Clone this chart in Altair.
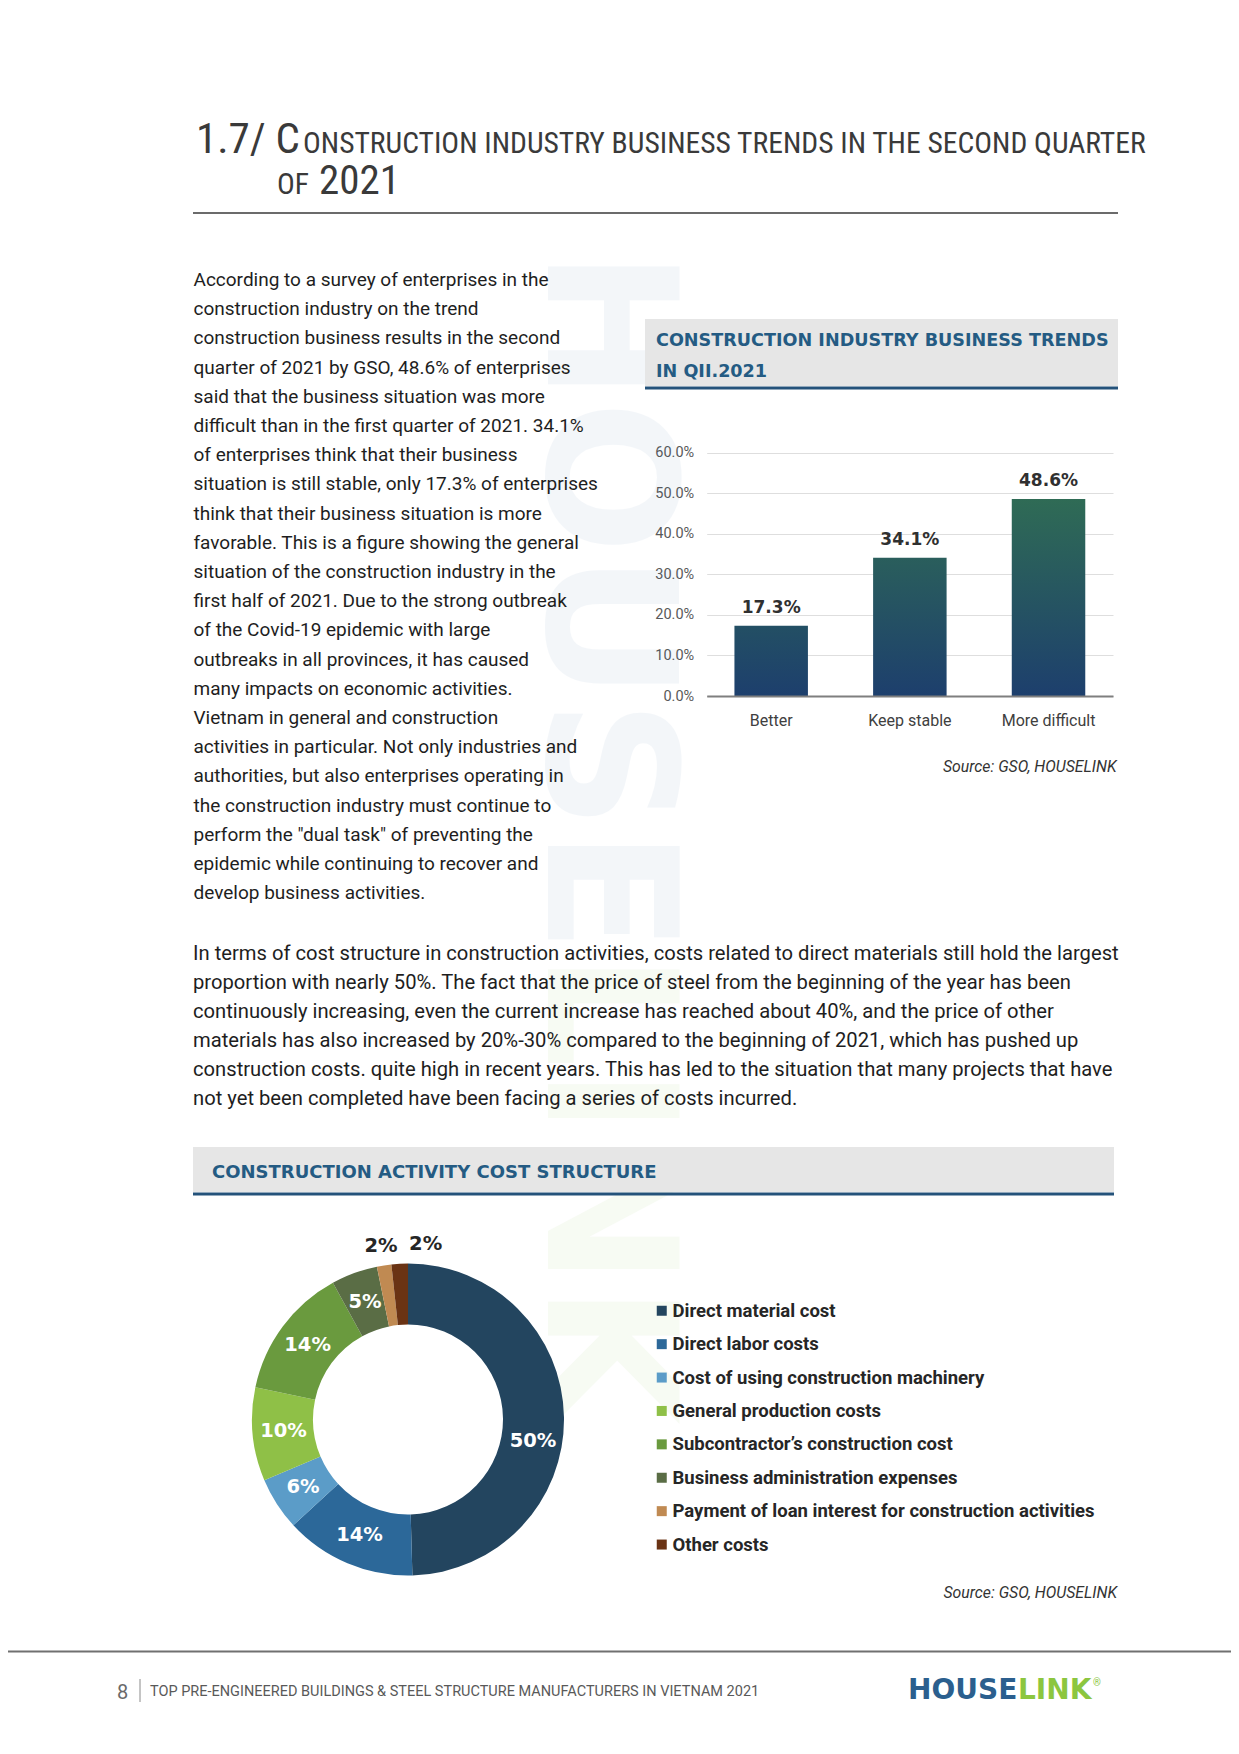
import math
import altair as alt
import pandas as pd

W, H = 1223, 1730

# ---------------- data ----------------
trend_categories = ["Better", "Keep stable", "More difficult"]
trend_values = [0.173, 0.341, 0.486]
trend_ticks = [0.0, 0.1, 0.2, 0.3, 0.4, 0.5, 0.6]

cost_categories = [
    "Direct material cost",
    "Direct labor costs",
    "Cost of using construction machinery",
    "General production costs",
    "Subcontractor\u2019s construction cost",
    "Business administration expenses",
    "Payment of loan interest for construction activities",
    "Other costs",
]
cost_values = [49.6, 13.6, 5.5, 9.7, 13.7, 4.8, 1.5, 1.7]
cost_labels = ["50%", "14%", "6%", "10%", "14%", "5%", "2%", "2%"]
cost_colors = ["#23455f", "#2c6899", "#5b9cc8", "#8fc047", "#6a9a3e", "#5a6d45", "#c08a52", "#6a3314"]

title_lead = "1.7/ C"
title_rest = "ONSTRUCTION INDUSTRY BUSINESS TRENDS IN THE SECOND QUARTER"
title_of = "OF"
title_year = "2021"

left_paragraph = [
    "According to a survey of enterprises in the",
    "construction industry on the trend",
    "construction business results in the second",
    "quarter of 2021 by GSO, 48.6% of enterprises",
    "said that the business situation was more",
    "difficult than in the first quarter of 2021. 34.1%",
    "of enterprises think that their business",
    "situation is still stable, only 17.3% of enterprises",
    "think that their business situation is more",
    "favorable. This is a figure showing the general",
    "situation of the construction industry in the",
    "first half of 2021. Due to the strong outbreak",
    "of the Covid-19 epidemic with large",
    "outbreaks in all provinces, it has caused",
    "many impacts on economic activities.",
    "Vietnam in general and construction",
    "activities in particular. Not only industries and",
    "authorities, but also enterprises operating in",
    "the construction industry must continue to",
    "perform the \"dual task\" of preventing the",
    "epidemic while continuing to recover and",
    "develop business activities.",
]
bottom_paragraph = [
    "In terms of cost structure in construction activities, costs related to direct materials still hold the largest",
    "proportion with nearly 50%. The fact that the price of steel from the beginning of the year has been",
    "continuously increasing, even the current increase has reached about 40%, and the price of other",
    "materials has also increased by 20%-30% compared to the beginning of 2021, which has pushed up",
    "construction costs. quite high in recent years. This has led to the situation that many projects that have",
    "not yet been completed have been facing a series of costs incurred.",
]
bar_header = ["CONSTRUCTION INDUSTRY BUSINESS TRENDS", "IN QII.2021"]
donut_header = "CONSTRUCTION ACTIVITY COST STRUCTURE"
source_text = "Source: GSO, HOUSELINK"
footer_page = "8"
footer_text = "TOP PRE-ENGINEERED BUILDINGS & STEEL STRUCTURE MANUFACTURERS IN VIETNAM 2021"
logo_a, logo_b, logo_mark = "HOUSE", "LINK", "\u00ae"
watermark_a, watermark_b = "HOUSE", "LINK"

# ---------------- styles ----------------
NARROW = "Liberation Sans Narrow, Roboto Condensed, Roboto"
BODY = "Roboto"
BOLD = "DejaVu Sans"
HEAD_BLUE = "#245b83"
LINE_BLUE = "#24527a"
BAR_BOTTOM = "#1d3f6d"
BAR_TOP = "#2f6b55"

one = alt.Data(values=[{}])


def txt(text, x, y, size, color="#222222", font=BODY, weight="normal", align="left",
        baseline="alphabetic", style="normal", lh=None, angle=None, opacity=None):
    kw = dict(font=font, fontSize=size, fontWeight=weight, align=align, baseline=baseline,
              color=color, fontStyle=style)
    if lh:
        kw["lineHeight"] = lh
    if angle:
        kw["angle"] = angle
    if opacity is not None:
        kw["opacity"] = opacity
    return alt.Chart(one).mark_text(**kw).encode(
        x=alt.value(x), y=alt.value(y), text=alt.value(text))


def rect(x1, x2, y1, y2, color):
    return alt.Chart(one).mark_rect(color=color).encode(
        x=alt.value(x1), x2=alt.value(x2), y=alt.value(y1), y2=alt.value(y2))


def hrule(x1, x2, y, color, width):
    return alt.Chart(one).mark_rule(color=color, strokeWidth=width).encode(
        x=alt.value(x1), x2=alt.value(x2), y=alt.value(y))


def vrule(x, y1, y2, color, width):
    return alt.Chart(one).mark_rule(color=color, strokeWidth=width).encode(
        x=alt.value(x), y=alt.value(y1), y2=alt.value(y2))


def lerp_hex(c0, c1, t):
    a = [int(c0[i:i + 2], 16) for i in (1, 3, 5)]
    b = [int(c1[i:i + 2], 16) for i in (1, 3, 5)]
    return "#" + "".join(f"{round(a[k] + (b[k] - a[k]) * t):02x}" for k in range(3))


layers = []

# faint, translucent watermark (axis labels stay readable through it)
layers.append(txt(watermark_a, 540, 242, 180, color="#2a64a0", font=BOLD, weight="bold",
                  angle=90, opacity=0.05))
layers.append(txt(watermark_b, 540, 945, 180, color="#7fbf3f", font=BOLD, weight="bold",
                  angle=90, opacity=0.06))

# page title
layers.append(txt(title_lead, 188, 145, 43, color="#3a3a3a", font=NARROW))
layers.append(txt(title_rest, 295, 145, 29.6, color="#3a3a3a", font=NARROW))
layers.append(txt(title_of, 269, 186, 29.6, color="#3a3a3a", font=NARROW))
layers.append(txt(title_year, 311, 186, 41, color="#3a3a3a", font=NARROW))
layers.append(hrule(185, 1110, 205, "#6b6b6b", 2))

# paragraphs
layers.append(txt(left_paragraph, 185.5, 278, 19, color="#1e1e1e", lh=29.2))
layers.append(txt(bottom_paragraph, 185, 951.5, 20.2, color="#1e1e1e", lh=29.1))

# bar chart header
layers.append(rect(637, 1110, 311, 378, "#e6e6e6"))
layers.append(hrule(637, 1110, 380, LINE_BLUE, 3))
layers.append(txt(bar_header, 648, 338, 17.6, color=HEAD_BLUE, font=BOLD, weight="bold", lh=31))

# bar chart
bar_df = pd.DataFrame({"cat": trend_categories, "v": trend_values})
vmax = max(trend_values)


def grad(top):
    return {"gradient": "linear", "x1": 0, "y1": 0, "x2": 0, "y2": 1,
            "stops": [{"offset": 0, "color": top}, {"offset": 1, "color": BAR_BOTTOM}]}


grads = [grad(lerp_hex(BAR_BOTTOM, BAR_TOP, v / vmax)) for v in trend_values]
fill_cond = {
    "condition": [{"test": f"datum.cat === '{c}'", "value": g}
                  for c, g in zip(trend_categories[:-1], grads[:-1])],
    "value": grads[-1],
}

xs = alt.X("cat:N", sort=trend_categories,
           scale=alt.Scale(range=[698.7, 1105], paddingInner=0.47, paddingOuter=0.2),
           axis=alt.Axis(orient="bottom", offset=688 - H, title=None, labelAngle=0, ticks=False,
                         domain=True, domainColor="#7f7f7f", domainWidth=2, grid=False, zindex=1,
                         labelPadding=16.5, labelFont=BODY, labelFontSize=16, labelColor="#404040"))
ys = alt.Y("v:Q",
           scale=alt.Scale(domain=[0, 0.6], range=[688, 444.7], nice=False, zero=True),
           axis=alt.Axis(orient="left", offset=-698.7, title=None, values=trend_ticks, format=".1%",
                         ticks=False, domain=False, grid=True, gridColor="#dedede", gridWidth=1,
                         zindex=0, labelPadding=13, labelFont=BODY, labelFontSize=14.5,
                         labelColor="#595959"))

layers.append(alt.Chart(bar_df).mark_bar().encode(x=xs, y=ys, fill=fill_cond))
layers.append(alt.Chart(bar_df).mark_text(dy=-13, baseline="alphabetic", font=BOLD, fontWeight="bold",
                                          fontSize=17, color="#303030").encode(
    x=xs, y=ys, text=alt.Text("v:Q", format=".1%")))
layers.append(txt(source_text, 1108.5, 764, 15.8, color="#333333", align="right", style="italic"))

# donut header
layers.append(rect(185, 1106, 1139, 1184, "#e6e6e6"))
layers.append(hrule(185, 1106, 1186, LINE_BLUE, 3))
layers.append(txt(donut_header, 204, 1170, 18, color=HEAD_BLUE, font=BOLD, weight="bold"))

# donut
cost_df = pd.DataFrame({"idx": list(range(len(cost_categories))), "cat": cost_categories,
                        "v": cost_values, "label": cost_labels})
total = sum(cost_values)
theta_scale = alt.Scale(domain=[0, total], range=[0, 2 * math.pi])
CX, CY = 400, 1411.5
base = alt.Chart(cost_df).transform_window(
    cum="sum(v)", sort=[alt.SortField("idx")], frame=[None, 0]
).transform_calculate(start="datum.cum - datum.v", mid="datum.cum - datum.v / 2")

layers.append(base.mark_arc(innerRadius=95, outerRadius=156).encode(
    theta=alt.Theta("start:Q", stack=None, scale=theta_scale),
    theta2="cum:Q",
    color=alt.Color("cat:N", scale=alt.Scale(domain=cost_categories, range=cost_colors),
                    legend=alt.Legend(orient="none", legendX=644.5, legendY=1293.5, title=None,
                                      symbolType="square", symbolSize=100, symbolStrokeWidth=0,
                                      symbolOpacity=1, labelFont=BODY, labelFontWeight="bold",
                                      labelFontSize=18.5, labelColor="#262626", labelOffset=1.5,
                                      rowPadding=14.4, padding=0, labelLimit=800)),
    x=alt.value(CX), y=alt.value(CY)))


def donut_labels(flt, radius, color, dx=0, dy=0):
    return base.transform_filter(flt).mark_text(
        radius=radius, dx=dx, dy=dy, font=BOLD, fontWeight="bold", fontSize=19.5, color=color
    ).encode(theta=alt.Theta("mid:Q", stack=None, scale=theta_scale), text="label:N",
             x=alt.value(CX), y=alt.value(CY))


layers.append(donut_labels("datum.idx == 0", 125, "white", dy=23))
layers.append(donut_labels("datum.idx >= 1 && datum.idx < 6", 125, "white"))
layers.append(donut_labels("datum.idx == 6", 176, "#262626"))
layers.append(donut_labels("datum.idx == 7", 176, "#262626", dx=27))

layers.append(txt(source_text, 1109, 1590, 15.8, color="#333333", align="right", style="italic"))

# footer
layers.append(hrule(0, W, 1643.5, "#707070", 2))
layers.append(txt(footer_page, 109, 1691, 20, color="#6a6a6a"))
layers.append(vrule(132, 1671, 1694, "#8a8a8a", 1))
layers.append(txt(footer_text, 142, 1688, 14.5, color="#595959"))
layers.append(txt(logo_a, 900, 1691, 28, color="#2b5f8e", font=BOLD, weight="bold"))
layers.append(txt(logo_b, 1010, 1691, 28, color="#8cc63f", font=BOLD, weight="bold"))
layers.append(txt(logo_mark, 1085, 1678, 10, color="#8cc63f"))

chart = alt.layer(*layers).properties(
    width=W, height=H, padding=0,
    autosize=alt.AutoSizeParams(type="none"),
    background="white",
).configure_view(stroke=None)

chart.save("out.html", embed_options={"renderer": "svg", "actions": False})
